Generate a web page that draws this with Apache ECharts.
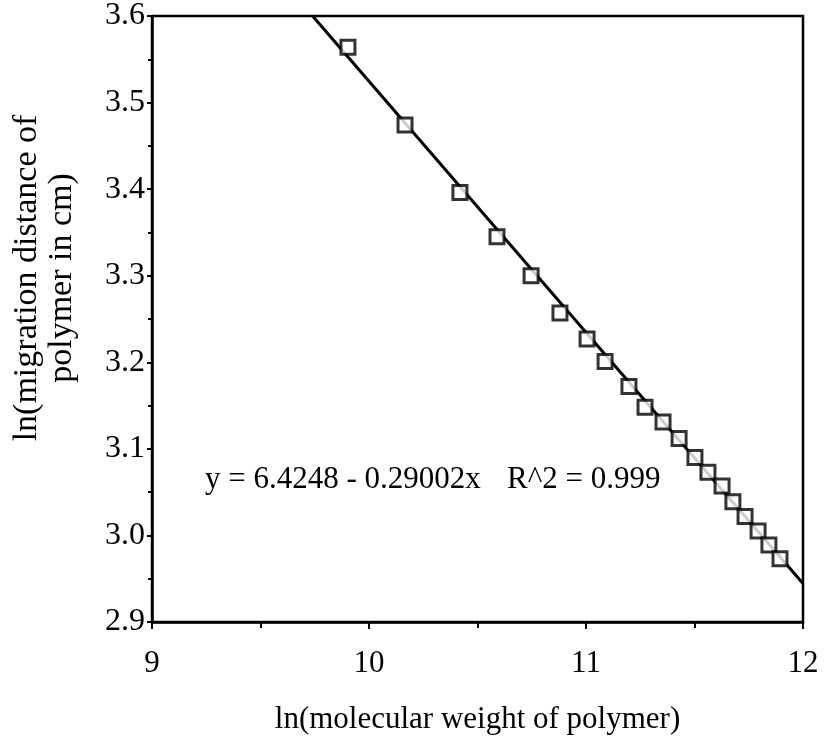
<!DOCTYPE html>
<html>
<head>
<meta charset="utf-8">
<script src="https://cdn.jsdelivr.net/npm/echarts@6/dist/echarts.min.js"></script>
<style>
  html, body { margin: 0; padding: 0; background: #fff; }
  #chart { width: 825px; height: 740px; }
</style>
</head>
<body>
<div id="chart"></div>
<script>
// ln(molecular weight) of each polymer standard
const lnMolWeight = [
  9.903, 10.166, 10.419, 10.590, 10.747, 10.880, 11.005, 11.088, 11.198, 11.272,
  11.355, 11.429, 11.502, 11.562, 11.627, 11.677, 11.733, 11.793, 11.843, 11.894
];
// ln(migration distance in cm) for the same standards
const lnDistance = [
  3.564, 3.474, 3.396, 3.345, 3.300, 3.257, 3.227, 3.201, 3.172, 3.148,
  3.131, 3.112, 3.090, 3.073, 3.057, 3.039, 3.022, 3.005, 2.989, 2.973
];
// least-squares fit: y = intercept + slope * x
const fitIntercept = 6.4248;
const fitSlope = -0.29002;
const fitR2 = 0.999;

const xMin = 9, xMax = 12, yMin = 2.9, yMax = 3.6;

const points = lnMolWeight.map((x, i) => [x, lnDistance[i]]);
// fitted line from where it enters the top of the plot to the right edge
const fitStartX = (yMax - fitIntercept) / fitSlope;
const fitLine = [fitStartX, xMax].map(x => [x, fitIntercept + fitSlope * x]);

const FONT = '"Liberation Serif", "Times New Roman", serif';
const INK = '#000';

const chart = echarts.init(document.getElementById('chart'), null, { renderer: 'canvas' });
chart.setOption({
  animation: false,
  backgroundColor: '#fff',
  grid: {
    left: 152, right: 22, top: 16, bottom: 117,
    show: true, borderColor: INK, borderWidth: 2.5, backgroundColor: 'transparent'
  },
  xAxis: {
    type: 'value', min: xMin, max: xMax, interval: 1,
    name: 'ln(molecular weight of polymer)',
    nameLocation: 'middle', nameGap: 82,
    nameTextStyle: { fontFamily: FONT, fontSize: 31, color: INK },
    axisLine: { lineStyle: { color: INK, width: 2.5 } },
    axisTick: { inside: false, length: 7, lineStyle: { color: INK, width: 2 } },
    minorTick: { show: true, splitNumber: 2, length: 6, lineStyle: { color: INK, width: 2 } },
    splitLine: { show: false },
    axisLabel: { fontFamily: FONT, fontSize: 31, color: INK, margin: 26 }
  },
  yAxis: {
    type: 'value', min: yMin, max: yMax, interval: 0.1,
    axisLine: { lineStyle: { color: INK, width: 2.5 } },
    axisTick: { inside: false, length: 5, lineStyle: { color: INK, width: 2 } },
    minorTick: { show: true, splitNumber: 2, length: 4, lineStyle: { color: INK, width: 2 } },
    splitLine: { show: false },
    axisLabel: {
      fontFamily: FONT, fontSize: 32, color: INK, margin: 7,
      formatter: v => v.toFixed(1)
    }
  },
  series: [
    {
      type: 'line',
      data: fitLine,
      showSymbol: false,
      clip: true,
      lineStyle: { color: INK, width: 3 },
      z: 2
    },
    {
      type: 'scatter',
      data: points,
      symbol: 'rect',
      symbolSize: 14,
      itemStyle: { color: '#fff', borderColor: INK, borderWidth: 3 },
      z: 3
    }
  ],
  graphic: [
    {
      type: 'text', x: 45, y: 278, rotation: Math.PI / 2,
      style: {
        text: 'ln(migration distance of\npolymer in cm)',
        fontFamily: FONT, fontSize: 34, lineHeight: 35, fill: INK,
        align: 'center', verticalAlign: 'middle'
      }
    },
    {
      type: 'text', x: 205, y: 480,
      style: {
        text: 'y = ' + fitIntercept.toFixed(4) + ' - ' + Math.abs(fitSlope).toFixed(5) + 'x',
        fontFamily: FONT, fontSize: 31, fill: INK,
        align: 'left', verticalAlign: 'middle'
      }
    },
    {
      type: 'text', x: 507, y: 480,
      style: {
        text: 'R^2 = ' + fitR2.toFixed(3),
        fontFamily: FONT, fontSize: 31, fill: INK,
        align: 'left', verticalAlign: 'middle'
      }
    }
  ]
});
</script>
</body>
</html>
